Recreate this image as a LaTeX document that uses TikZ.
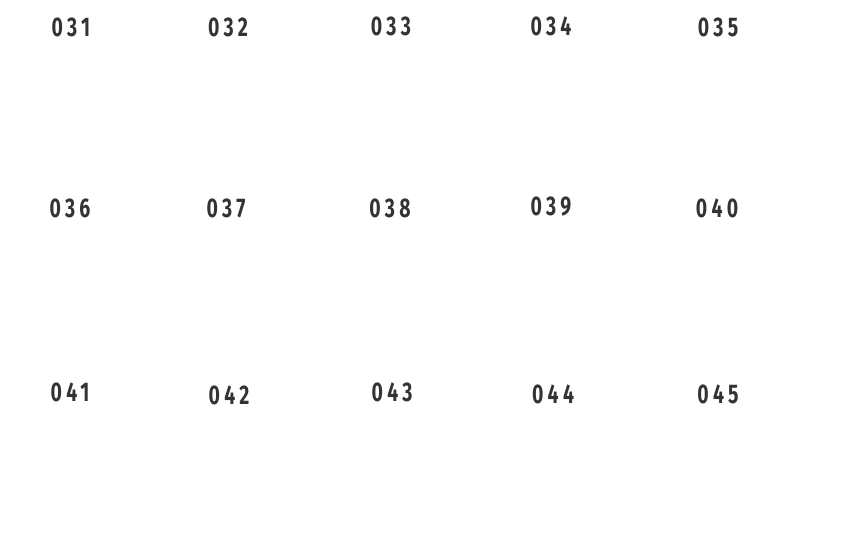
\documentclass[tikz,border=0pt]{standalone}
\usepackage{fontspec}
\usepackage{xcolor}
\usepackage{tikz}
\setmainfont{Fira Sans}[FakeStretch=0.72,LetterSpace=16]
\definecolor{numgray}{HTML}{333333}
\usetikzlibrary{positioning}

\tikzset{
    numlabel/.style={text=numgray, font=\fontsize{27}{27}\selectfont\bfseries, inner sep=0pt}
}

\begin{document}
\begin{tikzpicture}[x=1pt,y=-1pt]
    \useasboundingbox (0,0) rectangle (847,541);

    % Row 1
    \foreach \num/\px/\py in {031/71/27, 032/228/27, 033/391/26, 034/551/26, 035/718/27}
        \node[numlabel] (n\num) at (\px,\py) {\num};

    % Row 2
    \foreach \num/\px/\py in {036/70/208, 037/226/208, 038/390/208, 039/551/207, 040/717/208}
        \node[numlabel] (n\num) at (\px,\py) {\num};

    % Row 3
    \foreach \num/\px/\py in {041/70/392, 042/229/395, 043/392/392, 044/553/394, 045/718/394}
        \node[numlabel] (n\num) at (\px,\py) {\num};

\end{tikzpicture}
\end{document}
